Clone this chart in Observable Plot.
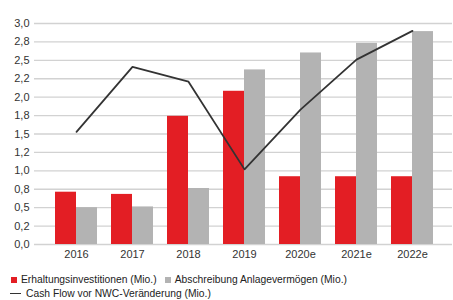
<!DOCTYPE html>
<html>
<head>
<meta charset="utf-8">
<script src="https://cdn.jsdelivr.net/npm/d3@7"></script>
<script src="https://cdn.jsdelivr.net/npm/@observablehq/plot@0.6"></script>
<style>
  body { margin: 0; background: #fff; font-family: "Liberation Sans", Arial, sans-serif; }
  #wrap { position: relative; width: 453px; height: 300px; }
  .leg { position: absolute; font-size: 10.3px; color: #222; white-space: nowrap; display: flex; align-items: center; }
  .sw { display: inline-block; width: 6px; height: 6px; margin-right: 4px; }
  .ln { display: inline-block; width: 11px; height: 0; border-top: 1.6px solid #333; margin-right: 5px; }
</style>
</head>
<body>
<div id="wrap">
  <div id="chart"></div>
  <div class="leg" style="left:11px; top:274px;">
    <span class="sw" style="background:#e31e24"></span><span>Erhaltungsinvestitionen (Mio.)</span>
    <span class="sw" style="background:#b3b3b3; margin-left:8px;"></span><span>Abschreibung Anlagevermögen (Mio.)</span>
  </div>
  <div class="leg" style="left:10px; top:288px;">
    <span class="ln"></span><span>Cash Flow vor NWC-Veränderung (Mio.)</span>
  </div>
</div>
<script>
const years = ["2016","2017","2018","2019","2020e","2021e","2022e"];
const erhaltung = [0.71, 0.68, 1.74, 2.08, 0.92, 0.92, 0.92];
const abschreibung = [0.50, 0.51, 0.76, 2.37, 2.60, 2.73, 2.89];
const cashflow = [1.53, 2.41, 2.21, 1.02, 1.83, 2.51, 2.90];
const yTicks = [0, 0.25, 0.5, 0.75, 1, 1.25, 1.5, 1.75, 2, 2.25, 2.5, 2.75, 3];
const yLabels = ["0,0","0,2","0,5","0,8","1,0","1,2","1,5","1,8","2,0","2,2","2,5","2,8","3,0"];

const rows = years.map((y, i) => ({year: y, e: erhaltung[i], a: abschreibung[i], c: cashflow[i]}));

const chart = Plot.plot({
  width: 453,
  height: 266,
  marginLeft: 34,
  marginRight: 1,
  marginTop: 23,
  marginBottom: 22,
  style: {fontFamily: "Liberation Sans, Arial, sans-serif", fontSize: "11px", color: "#333", background: "#fff"},
  x: {type: "band", domain: years, paddingInner: 0.25, paddingOuter: 0.125, insetLeft: 14, insetRight: 12},
  y: {domain: [0, 3]},
  marks: [
    Plot.ruleY(yTicks, {stroke: "#d2d2d2", strokeWidth: 1.3}),
    Plot.barY(rows, {x: "year", y: "e", fill: "#e31e24", insetRight: 21, insetLeft: 0}),
    Plot.barY(rows, {x: "year", y: "a", fill: "#b3b3b3", insetLeft: 21, insetRight: 0}),
    Plot.lineY(rows, {x: "year", y: "c", stroke: "#333", strokeWidth: 1.8}),
    Plot.axisY({ticks: yTicks, tickFormat: (d, i) => yLabels[yTicks.indexOf(d)], tickSize: 0, tickPadding: 5, label: null}),
    Plot.axisX({tickSize: 0, tickPadding: 6, label: null})
  ]
});
document.getElementById("chart").appendChild(chart);
</script>
</body>
</html>
